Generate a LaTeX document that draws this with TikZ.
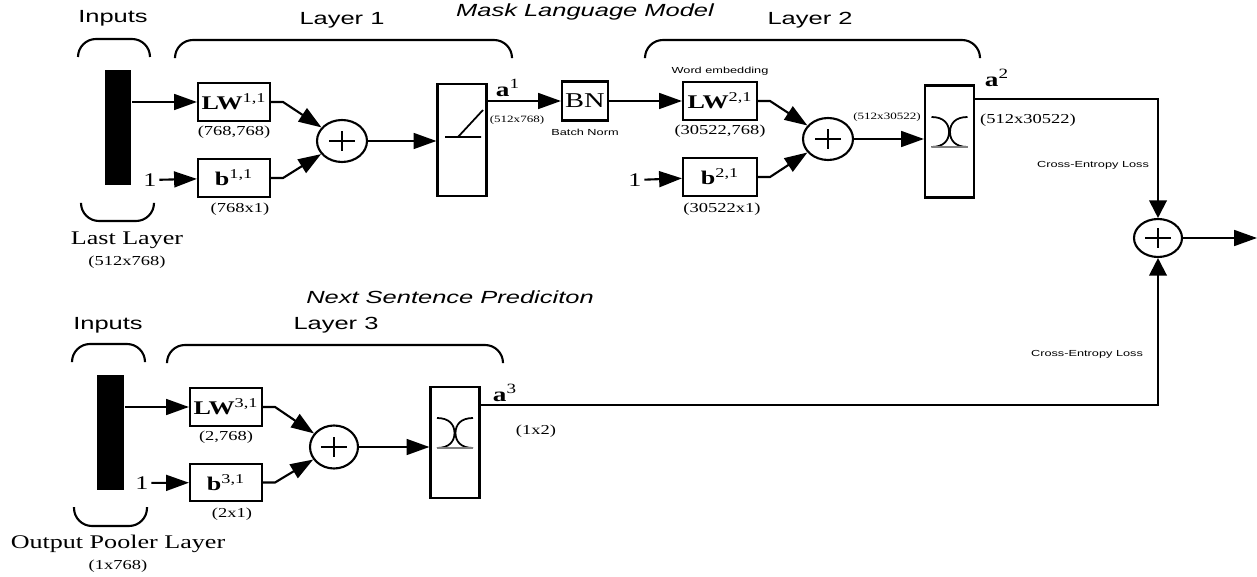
\documentclass[tikz,border=0pt]{standalone}
\usepackage{fontspec}
\setmainfont{Liberation Serif}[FakeStretch=1.35]
\newfontfamily\helv{Liberation Sans}[FakeStretch=1.45]
\usetikzlibrary{arrows.meta,positioning,shapes.geometric}

\begin{document}
\begin{tikzpicture}[x=0.02cm,y=-0.02cm,line width=1.2pt,
  every node/.style={align=center,inner sep=1pt},
  ttl/.style={font=\helv\fontsize{10}{12}\selectfont},
  sect/.style={font=\helv\itshape\fontsize{10}{12}\selectfont},
  note/.style={font=\helv\fontsize{5}{6}\selectfont},
  dimlbl/.style={font=\fontsize{7.8}{9}\selectfont},
  tinydim/.style={font=\fontsize{5.5}{6.5}\selectfont},
  layername/.style={font=\fontsize{11}{13}\selectfont},
  numin/.style={font=\fontsize{11}{13}\selectfont},
  actlbl/.style={font=\fontsize{11.5}{13}\selectfont},
  wbox/.style={draw,minimum width=1.44cm,minimum height=0.75cm,inner sep=0pt,font=\fontsize{11}{13}\selectfont},
  inbar/.style={fill=black,minimum width=0.53cm,minimum height=2.3cm,inner sep=0pt},
  sumnode/.style={draw,ellipse,minimum width=1cm,minimum height=0.84cm,inner sep=0pt,
    path picture={\draw[line width=1pt,shift={(path picture bounding box.center)},x=1cm,y=1cm]
      (-0.26,0) -- (0.26,0) (0,-0.2) -- (0,0.2);}},
  actbox/.style={draw,minimum width=0.98cm,minimum height=2.24cm,inner sep=0pt},
  relu/.style={path picture={\draw[line width=1pt,shift={(path picture bounding box.center)},x=1cm,y=1cm]
      (-0.34,0.06) -- (0.38,0.06) (-0.08,0.06) -- (0.42,0.6);}},
  softmax/.style={path picture={\draw[line width=1pt,shift={(path picture bounding box.center)},x=1cm,y=1cm]
      (-0.36,0.49) .. controls (-0.12,0.49) and (-0.01,0.36) .. (-0.01,0.19) .. controls (-0.01,0.02) and (-0.12,-0.11) .. (-0.36,-0.11)
      (0.36,0.49) .. controls (0.12,0.49) and (0.01,0.36) .. (0.01,0.19) .. controls (0.01,0.02) and (0.12,-0.11) .. (0.36,-0.11);
    \draw[gray,line width=1pt,shift={(path picture bounding box.center)},x=1cm,y=1cm] (-0.36,-0.11) -- (0.36,-0.11);}},
  brace/.style={rounded corners=0.36cm},
  flow/.style={-{Triangle[length=13pt,width=9pt]}},
  vflow/.style={-{Triangle[length=10pt,width=10pt]}}]
\useasboundingbox (0,0) rectangle (1257,577);

\node[sect] (mlm) at (585,12) {Mask Language Model};
\node[ttl] (inp1) at (113,18) {Inputs};
\draw[brace] (78,57) |- (114,39) -| (150,57);
\node[inbar] (bar1) at (118,127.5) {};
\draw[brace] (81,203) |- (117,221) -| (154,203);
\node[layername] (last1) at (127,240) {Last Layer};
\node[dimlbl,below=1pt of last1] (last1dim) {(512x768)};

\node[ttl] (lay1) at (342,20) {Layer 1};
\draw[brace] (175,57) |- (343,40) -| (512,57);
\node[wbox] (lw1) at (234,102) {\textbf{LW}\textsuperscript{1,1}};
\node[dimlbl,below=1pt of lw1] (lw1dim) {(768,768)};
\node[wbox] (b1) at (234,178) {\textbf{b}\textsuperscript{1,1}};
\node[dimlbl] (b1dim) at (240,209) {(768x1)};
\node[numin] (one1) at (150,180) {1};
\node[sumnode] (sum1) at (342,141) {};
\node[actbox,relu] (f1) at (462,140) {};
\node[actlbl] (a1) at (508,88) {\textbf{a}\textsuperscript{1}};
\node[tinydim] (a1dim) at (517,120) {(512x768)};
\node[draw,minimum width=0.92cm,minimum height=0.78cm,inner sep=0pt,font=\fontsize{12}{14}\selectfont] (bn) at (585,101) {BN};
\node[note,below=3pt of bn] (bnlbl) {Batch Norm};
\draw[flow] (bar1.east |- lw1) -- (lw1);
\draw[flow] (one1) -- (b1);
\draw[flow] (lw1.east) -- ++(12,0) -- (sum1);
\draw[flow] (b1.east) -- ++(12,0) -- (sum1);
\draw[flow] (sum1) -- (sum1 -| f1.west);
\draw[flow] (bn.west -| f1.east) -- (bn);

\node[ttl] (lay2) at (810,20) {Layer 2};
\draw[brace] (645,57) |- (812,40) -| (980,57);
\node[wbox,minimum width=1.48cm] (lw2) at (720,101) {\textbf{LW}\textsuperscript{2,1}};
\node[note,above=2pt of lw2] (wemb) {Word embedding};
\node[dimlbl,below=1pt of lw2] (lw2dim) {(30522,768)};
\node[wbox,minimum width=1.48cm] (b2) at (720,177) {\textbf{b}\textsuperscript{2,1}};
\node[dimlbl] (b2dim) at (722,209) {(30522x1)};
\node[numin] (one2) at (635,180) {1};
\node[sumnode] (sum2) at (828,139) {};
\node[tinydim] (s2dim) at (887,117) {(512x30522)};
\node[actbox,softmax] (f2) at (949.5,141.5) {};
\node[actlbl] (a2) at (997,78) {\textbf{a}\textsuperscript{2}};
\node[dimlbl] (a2dim) at (1028,120) {(512x30522)};
\draw[flow] (bn) -- (lw2);
\draw[flow] (one2) -- (b2);
\draw[flow] (lw2.east) -- ++(12,0) -- (sum2);
\draw[flow] (b2.east) -- ++(12,0) -- (sum2);
\draw[flow] (sum2) -- (sum2 -| f2.west);

\node[sumnode,minimum width=0.96cm,minimum height=0.76cm] (sumout) at (1158,238) {};
\coordinate (out) at (1257,238);
\node[note] (ce1) at (1093,165) {Cross-Entropy Loss};
\node[note] (ce2) at (1087,354) {Cross-Entropy Loss};
\draw[vflow] ([yshift=0.85cm]f2.east) -| (sumout);
\draw[flow] (sumout) -- (out);

\node[sect] (nsp) at (450,297) {Next Sentence Prediciton};
\node[ttl] (inp2) at (108,325) {Inputs};
\draw[brace] (72,362) |- (108,344) -| (145,362);
\node[inbar] (bar2) at (110.5,432.5) {};
\draw[brace] (74,507) |- (110,526) -| (147,507);
\node[layername] (pool) at (118,544) {Output Pooler Layer};
\node[dimlbl,below=1pt of pool] (pooldim) {(1x768)};

\node[ttl] (lay3) at (336,325) {Layer 3};
\draw[brace] (167,363) |- (335,345) -| (503,363);
\node[wbox] (lw3) at (226,407) {\textbf{LW}\textsuperscript{3,1}};
\node[dimlbl,below=1pt of lw3] (lw3dim) {(2,768)};
\node[wbox] (b3) at (226,482.5) {\textbf{b}\textsuperscript{3,1}};
\node[dimlbl] (b3dim) at (232,514) {(2x1)};
\node[numin] (one3) at (142,483) {1};
\node[sumnode,minimum width=0.96cm,minimum height=0.86cm] (sum3) at (334,447) {};
\node[actbox,softmax,minimum height=2.22cm] (f3) at (455,442.5) {};
\node[actlbl] (a3) at (505,393) {\textbf{a}\textsuperscript{3}};
\node[dimlbl] (a3dim) at (536,431) {(1x2)};
\draw[flow] (bar2.east |- lw3) -- (lw3);
\draw[flow] (one3) -- (b3);
\draw[flow] (lw3.east) -- ++(12,0) -- (sum3);
\draw[flow] (b3.east) -- ++(12,0) -- (sum3);
\draw[flow] (sum3) -- (sum3 -| f3.west);
\draw[vflow] ([yshift=0.75cm]f3.east) -| (sumout);
\end{tikzpicture}
\end{document}
